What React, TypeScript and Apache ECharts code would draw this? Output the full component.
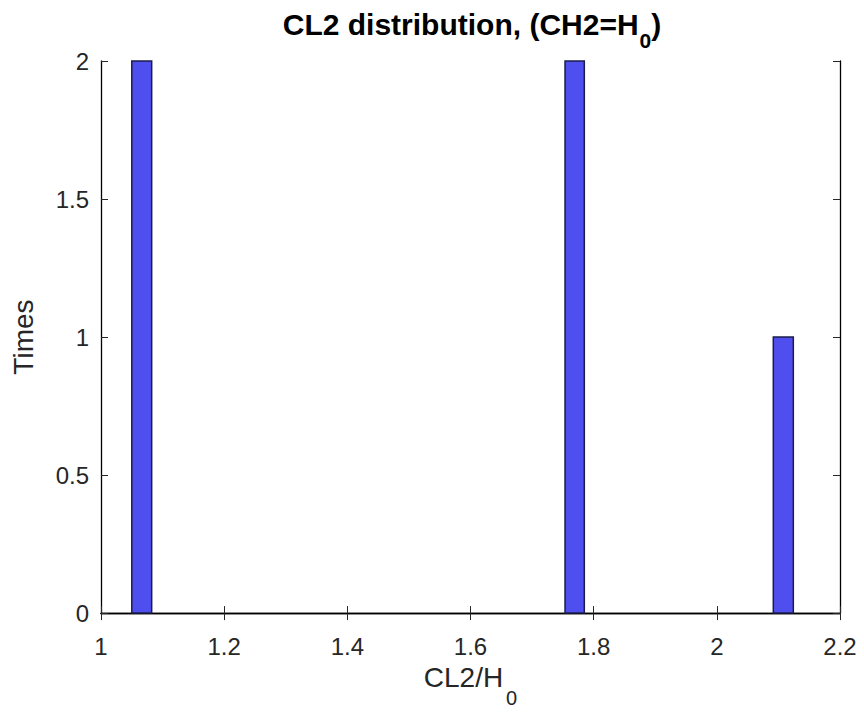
import React, { useEffect, useRef } from "react";
import * as echarts from "echarts";

// Histogram bins (bin start, bin end, count)
const binStart = [1.05, 1.7535, 2.0917];
const binEnd = [1.0823, 1.7848, 2.1242];
const counts = [2, 2, 1];

const xTicks = [1, 1.2, 1.4, 1.6, 1.8, 2, 2.2];
const yTicks = [0, 0.5, 1, 1.5, 2];

const FONT = "Arial, 'Liberation Sans', Helvetica, sans-serif";

export default function App() {
  const ref = useRef<HTMLDivElement>(null);
  useEffect(() => {
    document.body.style.margin = "0";
    const chart = echarts.init(ref.current!, null, { renderer: "svg" });
    const data = binStart.map((s, i) => [s, binEnd[i], counts[i]]);
    const axisCommon = {
      axisLine: { show: true, lineStyle: { color: "#000", width: 1.3 } },
      axisTick: { show: true, inside: true, length: 7, lineStyle: { color: "#262626", width: 1 } },
      splitLine: { show: false },
    };
    chart.setOption({
      animation: false,
      backgroundColor: "#fff",
      title: {
        text: "{t|CL2 distribution, (CH2=H}{s|0}{t|)}",
        left: 472,
        textAlign: "center",
        top: -2,
        padding: 0,
        textStyle: {
          rich: {
            t: { fontFamily: FONT, fontSize: 30, fontWeight: "bold", color: "#000" },
            s: { fontFamily: FONT, fontSize: 21, fontWeight: "bold", color: "#000", padding: [32, 0, 0, 1] },
          },
        },
      },
      grid: { left: 101, top: 61, right: 24, bottom: 99, show: false },
      xAxis: [
        {
          type: "value",
          min: xTicks[0],
          max: xTicks[xTicks.length - 1],
          interval: 0.2,
          position: "bottom",
          ...axisCommon,
          axisLabel: {
            fontFamily: FONT,
            fontSize: 24,
            color: "#262626",
            margin: 21,
            formatter: (v: number) => String(Math.round(v * 10) / 10),
          },
          name: "{t|CL2/H}{s|0}",
          nameLocation: "middle",
          nameGap: 31,
          nameTextStyle: {
            rich: {
              t: { fontFamily: FONT, fontSize: 28, color: "#262626" },
              s: { fontFamily: FONT, fontSize: 20, color: "#262626", padding: [42, 0, 0, 3] },
            },
          },
        },
        {
          type: "value",
          min: xTicks[0],
          max: xTicks[xTicks.length - 1],
          interval: 0.2,
          position: "top",
          ...axisCommon,
          axisLabel: { show: false },
        },
      ],
      yAxis: [
        {
          type: "value",
          min: yTicks[0],
          max: yTicks[yTicks.length - 1],
          interval: 0.5,
          position: "left",
          ...axisCommon,
          axisLabel: {
            fontFamily: FONT,
            fontSize: 24,
            color: "#262626",
            margin: 12,
          },
          name: "Times",
          nameLocation: "middle",
          nameGap: 64,
          nameRotate: 90,
          nameTextStyle: { fontFamily: FONT, fontSize: 28, color: "#262626" },
        },
        {
          type: "value",
          min: yTicks[0],
          max: yTicks[yTicks.length - 1],
          interval: 0.5,
          position: "right",
          ...axisCommon,
          axisLabel: { show: false },
        },
      ],
      series: [
        {
          type: "custom",
          xAxisIndex: 0,
          yAxisIndex: 0,
          data,
          encode: { x: [0, 1], y: 2 },
          renderItem: (params: any, api: any) => {
            const p0 = api.coord([api.value(0), 0]);
            const p1 = api.coord([api.value(1), api.value(2)]);
            return {
              type: "rect",
              shape: { x: p0[0], y: p1[1], width: p1[0] - p0[0], height: p0[1] - p1[1] },
              style: { fill: "#4f4ff0", stroke: "#1c1c4a", lineWidth: 1.5 },
            };
          },
        },
      ],
    });
    return () => chart.dispose();
  }, []);
  return <div ref={ref} style={{ width: 864, height: 713 }} />;
}
